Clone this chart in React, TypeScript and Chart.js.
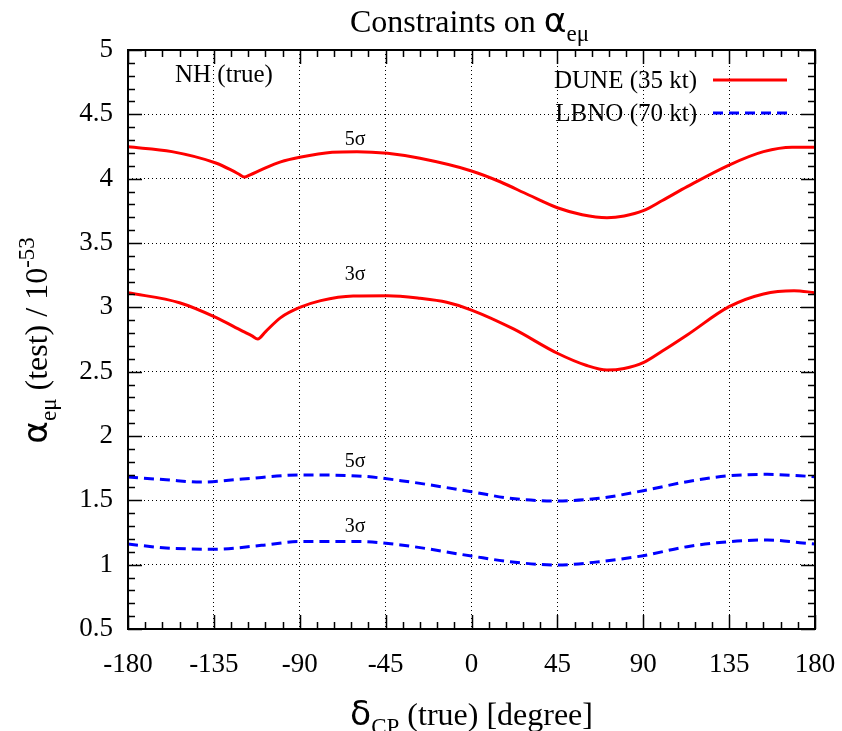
import React, { useEffect, useRef } from "react";
import { Chart, registerables } from "chart.js";

Chart.register(...registerables);

// ---- Data ----
const duneDelta5 = [-180, -157, -134, -125, -122, -119, -116, -110, -100, -90, -73, -60, -44, -27, 0, 15, 30, 45, 58, 71, 80, 90, 100, 113, 135, 153, 168, 180];
const duneAlpha5 = [4.248, 4.21, 4.122, 4.06, 4.036, 4.013, 4.03, 4.07, 4.13, 4.166, 4.205, 4.21, 4.197, 4.158, 4.06, 3.976, 3.873, 3.774, 3.72, 3.697, 3.71, 3.751, 3.83, 3.938, 4.106, 4.21, 4.245, 4.245];

const duneDelta3 = [-180, -153, -134, -120, -115, -112, -108, -100, -90, -79, -62, -44, -27, -13, 0, 22, 45, 60, 71, 80, 90, 100, 113, 135, 153, 169, 180];
const duneAlpha3 = [3.114, 3.036, 2.922, 2.815, 2.778, 2.754, 2.81, 2.92, 2.999, 3.052, 3.088, 3.09, 3.07, 3.039, 2.979, 2.832, 2.643, 2.55, 2.513, 2.525, 2.57, 2.66, 2.785, 3.005, 3.104, 3.129, 3.114];

const lbnoDelta5 = [-180, -160, -142, -120, -90, -60, -37, 0, 20, 45, 67, 90, 113, 135, 155, 172, 180];
const lbnoAlpha5 = [1.681, 1.66, 1.642, 1.665, 1.697, 1.69, 1.653, 1.567, 1.516, 1.495, 1.516, 1.575, 1.645, 1.691, 1.702, 1.691, 1.683];

const lbnoDelta3 = [-180, -160, -135, -110, -90, -60, -37, 0, 20, 45, 67, 90, 113, 135, 155, 172, 180];
const lbnoAlpha3 = [1.16, 1.13, 1.12, 1.15, 1.18, 1.18, 1.153, 1.067, 1.023, 0.997, 1.023, 1.07, 1.14, 1.179, 1.192, 1.171, 1.16];

const seriesLabels = ["DUNE (35 kt)", "LBNO (70 kt)"];
const sigmaLabels = ["5σ", "3σ", "5σ", "3σ"];
const sigmaLabelX = [-61, -61, -61, -61];
const sigmaLabelY = [4.30, 3.25, 1.80, 1.293];

const xMin = -180, xMax = 180, xStep = 45, xMinorStep = 9;
const yMin = 0.5, yMax = 5, yStep = 0.5, yMinorStep = 0.1;

const SERIF = '"Liberation Serif", "Times New Roman", serif';
const GREEK = '"DejaVu Sans", sans-serif';

type Seg = [string, "n" | "sub" | "sup" | "g"];

function drawRich(ctx: CanvasRenderingContext2D, segs: Seg[], x: number, y: number, size: number, align: "left" | "center" | "right") {
  const fontFor = (k: string) => {
    const s = k === "sub" || k === "sup" ? size * 0.72 : k === "g" ? size * 1.08 : size;
    const fam = k === "g" ? GREEK : SERIF;
    return `${s}px ${fam}`;
  };
  const widths = segs.map(([t, k]) => {
    ctx.font = fontFor(k);
    return ctx.measureText(t).width;
  });
  const total = widths.reduce((a, b) => a + b, 0);
  let cx = align === "center" ? x - total / 2 : align === "right" ? x - total : x;
  ctx.textAlign = "left";
  ctx.textBaseline = "alphabetic";
  segs.forEach(([t, k], i) => {
    ctx.font = fontFor(k);
    const dy = k === "sub" ? size * 0.28 : k === "sup" ? -size * 0.42 : 0;
    ctx.fillText(t, cx, y + dy);
    cx += widths[i];
  });
}

const decorPlugin = {
  id: "decor",
  afterDatasetsDraw(chart: any) {
    const { ctx, chartArea } = chart;
    const { left, right, top, bottom } = chartArea;
    const xs = chart.scales.x;
    const ys = chart.scales.y;
    ctx.save();
    ctx.strokeStyle = "#000";
    ctx.lineWidth = 1.5;
    ctx.setLineDash([]);
    ctx.beginPath();
    for (let v = xMin; v <= xMax + 1e-9; v += xMinorStep) {
      const px = Math.round(xs.getPixelForValue(v)) + 0.5;
      const major = Math.abs(v % xStep) < 1e-9;
      const len = major ? 14 : 7;
      ctx.moveTo(px, bottom);
      ctx.lineTo(px, bottom - len);
      ctx.moveTo(px, top);
      ctx.lineTo(px, top + len);
    }
    const nY = Math.round((yMax - yMin) / yMinorStep);
    for (let i = 0; i <= nY; i++) {
      const v = yMin + i * yMinorStep;
      const py = Math.round(ys.getPixelForValue(v)) + 0.5;
      const major = i % 5 === 0;
      const len = major ? 14 : 7;
      ctx.moveTo(left, py);
      ctx.lineTo(left + len, py);
      ctx.moveTo(right, py);
      ctx.lineTo(right - len, py);
    }
    ctx.stroke();
    ctx.lineWidth = 2;
    ctx.strokeRect(left, top, right - left, bottom - top);
    ctx.restore();
  },
  afterDraw(chart: any) {
    const { ctx, chartArea } = chart;
    const { left, right, top, bottom } = chartArea;
    const xs = chart.scales.x;
    const ys = chart.scales.y;
    ctx.save();
    ctx.fillStyle = "#000";

    drawRich(ctx, [["Constraints on ", "n"], ["α", "g"], ["eμ", "sub"]], (left + right) / 2 - 2, 32, 32, "center");
    drawRich(ctx, [["δ", "g"], ["CP", "sub"], [" (true) [degree]", "n"]], (left + right) / 2, 725, 32, "center");

    ctx.save();
    ctx.translate(47, (top + bottom) / 2 + 1);
    ctx.rotate(-Math.PI / 2);
    drawRich(ctx, [["α", "g"], ["eμ", "sub"], [" (test) / 10", "n"], ["-53", "sup"]], 0, 0, 32, "center");
    ctx.restore();

    ctx.font = `25px ${SERIF}`;
    ctx.textAlign = "left";
    ctx.textBaseline = "middle";
    ctx.fillText("NH (true)", left + 47, top + 25);

    const legendRight = right - 28;
    const lineLen = 74;
    const rows = [top + 30, top + 63];
    seriesLabels.forEach((lab, i) => {
      const y = rows[i];
      ctx.font = `25px ${SERIF}`;
      ctx.textAlign = "right";
      ctx.textBaseline = "middle";
      ctx.fillStyle = "#000";
      ctx.fillText(lab, legendRight - lineLen - 16, y + 1);
      ctx.beginPath();
      ctx.lineWidth = 3;
      ctx.strokeStyle = i === 0 ? "#ff0000" : "#0000ff";
      ctx.setLineDash(i === 0 ? [] : [10, 6]);
      ctx.moveTo(legendRight - lineLen, y);
      ctx.lineTo(legendRight, y);
      ctx.stroke();
    });
    ctx.setLineDash([]);

    ctx.font = `20px ${SERIF}`;
    ctx.textAlign = "center";
    ctx.textBaseline = "middle";
    ctx.fillStyle = "#000";
    sigmaLabels.forEach((s, i) => {
      ctx.fillText(s, xs.getPixelForValue(sigmaLabelX[i]), ys.getPixelForValue(sigmaLabelY[i]));
    });
    ctx.restore();
  },
};

function toPoints(xs: number[], ys: number[]) {
  return xs.map((x, i) => ({ x, y: ys[i] }));
}

export default function App() {
  const ref = useRef<HTMLCanvasElement | null>(null);
  useEffect(() => {
    if (!ref.current) return;
    const lineCommon = {
      pointRadius: 0,
      borderWidth: 3,
      cubicInterpolationMode: "monotone" as const,
      fill: false,
    };
    const chart = new Chart(ref.current, {
      type: "line",
      data: {
        datasets: [
          { ...lineCommon, label: seriesLabels[0] + " 5σ", data: toPoints(duneDelta5, duneAlpha5), borderColor: "#ff0000" },
          { ...lineCommon, label: seriesLabels[0] + " 3σ", data: toPoints(duneDelta3, duneAlpha3), borderColor: "#ff0000" },
          { ...lineCommon, label: seriesLabels[1] + " 5σ", data: toPoints(lbnoDelta5, lbnoAlpha5), borderColor: "#0000ff", borderDash: [10, 6] },
          { ...lineCommon, label: seriesLabels[1] + " 3σ", data: toPoints(lbnoDelta3, lbnoAlpha3), borderColor: "#0000ff", borderDash: [10, 6] },
        ],
      },
      options: {
        responsive: false,
        animation: false,
        devicePixelRatio: 1,
        layout: { padding: { top: 50, right: 27, left: 0, bottom: 0 } },
        plugins: { legend: { display: false }, tooltip: { enabled: false }, title: { display: false } },
        scales: {
          x: {
            type: "linear",
            min: xMin,
            max: xMax,
            afterFit: (s: any) => { s.height = 102; s.paddingLeft = 0; s.paddingRight = 0; },
            afterBuildTicks: (s: any) => {
              const t = [];
              for (let v = xMin; v <= xMax; v += xStep) t.push({ value: v });
              s.ticks = t;
            },
            ticks: {
              stepSize: xStep,
              padding: 20,
              color: "#000",
              font: { family: SERIF, size: 27 },
              maxRotation: 0,
              autoSkip: false,
              callback: (v: any) => String(v),
            },
            grid: { color: "#000", lineWidth: 1, drawTicks: false },
            border: { display: false, dash: [1, 3] },
          },
          y: {
            type: "linear",
            min: yMin,
            max: yMax,
            afterFit: (s: any) => { s.width = 128; s.paddingTop = 0; s.paddingBottom = 0; },
            afterBuildTicks: (s: any) => {
              const t = [];
              for (let i = 0; i <= Math.round((yMax - yMin) / yStep); i++) t.push({ value: yMin + i * yStep });
              s.ticks = t;
            },
            ticks: {
              stepSize: yStep,
              padding: 15,
              color: "#000",
              font: { family: SERIF, size: 27 },
              autoSkip: false,
              callback: (v: any) => String(Math.round(Number(v) * 10) / 10),
            },
            grid: { color: "#000", lineWidth: 1, drawTicks: false },
            border: { display: false, dash: [1, 3] },
          },
        },
      },
      plugins: [decorPlugin],
    });
    return () => chart.destroy();
  }, []);
  return (
    <div style={{ position: "absolute", left: 0, top: 0, width: 842, height: 731, background: "#fff" }}>
      <canvas ref={ref} width={842} height={731} style={{ width: 842, height: 731, display: "block" }} />
    </div>
  );
}
